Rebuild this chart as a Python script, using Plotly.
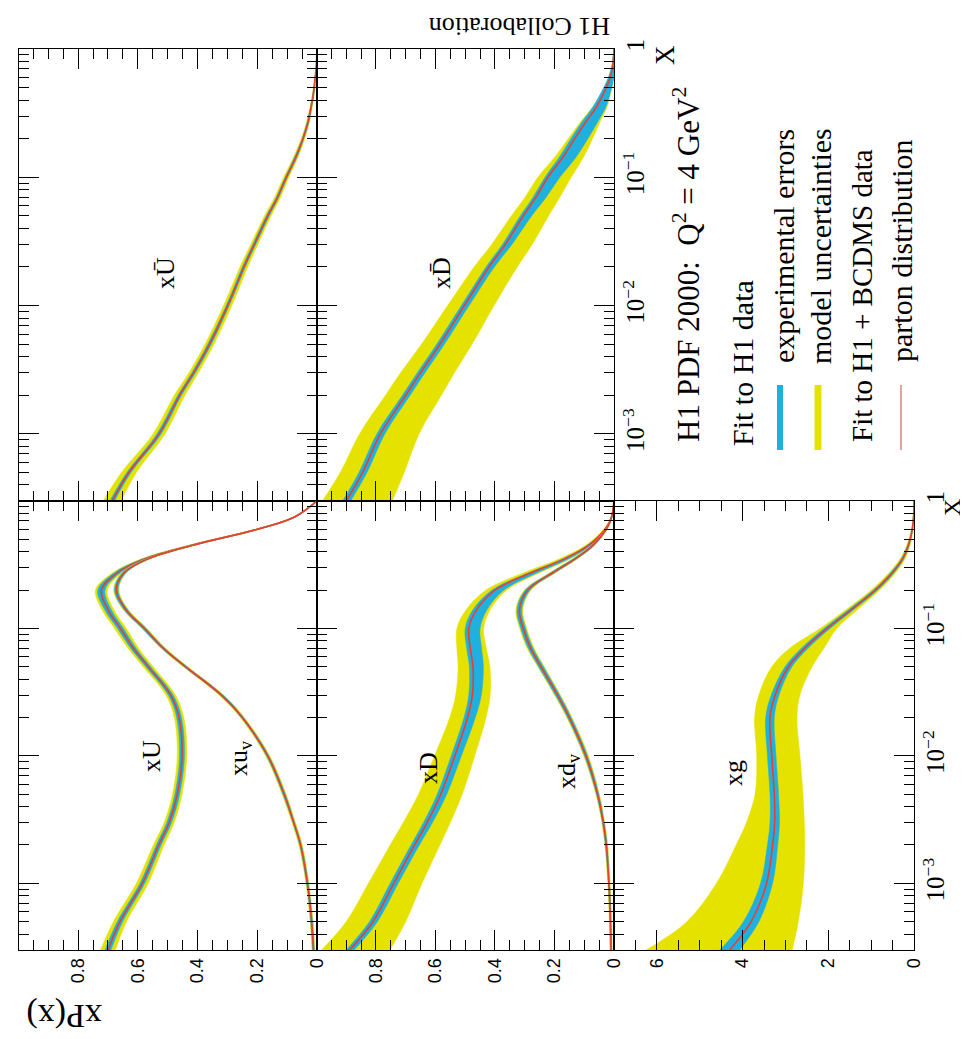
import plotly.graph_objects as go
from plotly.subplots import make_subplots

# ---------------- data ----------------
X = [3e-4, 5e-4, 1e-3, 2e-3, 3e-3, 5e-3, 1e-2, 2e-2, 3e-2, 5e-2, 7e-2, 0.1,
     0.14, 0.2, 0.27, 0.35, 0.45, 0.6, 0.75, 1.0]

xU = [0.70, 0.66, 0.585, 0.53, 0.495, 0.468, 0.452, 0.462, 0.49, 0.565, 0.615, 0.658,
      0.70, 0.722, 0.672, 0.578, 0.42, 0.20, 0.075, 0.0]
xU_cyan = [0.010, 0.009, 0.008, 0.008, 0.008, 0.008, 0.008, 0.008, 0.008, 0.008, 0.009, 0.010,
           0.011, 0.012, 0.010, 0.008, 0.006, 0.004, 0.002, 0.0]
xU_yel = [0.025, 0.022, 0.020, 0.018, 0.017, 0.016, 0.016, 0.016, 0.016, 0.017, 0.018, 0.020,
          0.020, 0.020, 0.016, 0.012, 0.009, 0.005, 0.002, 0.0]

xuv = [0.012, 0.018, 0.032, 0.055, 0.078, 0.11, 0.165, 0.25, 0.32, 0.44, 0.515, 0.578,
       0.64, 0.672, 0.648, 0.568, 0.415, 0.20, 0.075, 0.0]
xuv_cyan = [0.003, 0.003, 0.003, 0.003, 0.003, 0.004, 0.004, 0.004, 0.005, 0.005, 0.005, 0.006,
            0.006, 0.006, 0.006, 0.005, 0.004, 0.003, 0.002, 0.0]
xuv_yel = [0.005, 0.005, 0.005, 0.006, 0.006, 0.007, 0.007, 0.007, 0.008, 0.008, 0.008, 0.009,
           0.009, 0.009, 0.008, 0.007, 0.006, 0.004, 0.002, 0.0]

xUbar = [0.686, 0.63, 0.529, 0.46, 0.413, 0.36, 0.299, 0.245, 0.21, 0.165, 0.132, 0.103,
         0.073, 0.047, 0.03, 0.02, 0.012, 0.006, 0.002, 0.0]
xUbar_cyan = [0.008, 0.007, 0.007, 0.006, 0.006, 0.006, 0.005, 0.005, 0.005, 0.005, 0.004, 0.004,
              0.004, 0.003, 0.003, 0.002, 0.002, 0.001, 0.001, 0.0]
xUbar_yel = [0.030, 0.025, 0.020, 0.018, 0.016, 0.015, 0.014, 0.013, 0.012, 0.011, 0.010, 0.009,
             0.008, 0.006, 0.005, 0.004, 0.003, 0.002, 0.001, 0.0]

xD = [0.888, 0.81, 0.74, 0.67, 0.628, 0.582, 0.535, 0.492, 0.476, 0.474, 0.483, 0.488,
      0.462, 0.40, 0.285, 0.168, 0.085, 0.03, 0.008, 0.0]
xD_cyan_hi = [0.012, 0.012, 0.012, 0.012, 0.012, 0.012, 0.012, 0.012, 0.012, 0.012, 0.012, 0.012,
              0.012, 0.010, 0.008, 0.006, 0.004, 0.002, 0.001, 0.0]
xD_cyan_lo = [0.015, 0.015, 0.015, 0.016, 0.018, 0.020, 0.022, 0.026, 0.030, 0.035, 0.038, 0.038,
              0.035, 0.030, 0.022, 0.014, 0.008, 0.004, 0.002, 0.0]
xD_yel_hi = [0.095, 0.090, 0.085, 0.082, 0.080, 0.075, 0.068, 0.060, 0.056, 0.050, 0.045, 0.040,
             0.035, 0.030, 0.025, 0.018, 0.010, 0.005, 0.002, 0.0]
xD_yel_lo = [0.135, 0.110, 0.095, 0.085, 0.078, 0.072, 0.067, 0.062, 0.060, 0.057, 0.054, 0.050,
             0.046, 0.040, 0.030, 0.020, 0.012, 0.006, 0.002, 0.0]

xdv = [0.01, 0.012, 0.017, 0.026, 0.036, 0.055, 0.094, 0.15, 0.19, 0.245, 0.28, 0.305,
       0.318, 0.29, 0.21, 0.132, 0.07, 0.026, 0.008, 0.0]
xdv_cyan = [0.002, 0.002, 0.002, 0.003, 0.003, 0.004, 0.005, 0.006, 0.007, 0.008, 0.008, 0.008,
            0.008, 0.008, 0.007, 0.006, 0.004, 0.002, 0.001, 0.0]
xdv_yel = [0.004, 0.004, 0.004, 0.005, 0.005, 0.006, 0.008, 0.009, 0.010, 0.011, 0.012, 0.012,
           0.012, 0.011, 0.010, 0.008, 0.005, 0.003, 0.001, 0.0]

xDbar = [0.90, 0.845, 0.785, 0.70, 0.65, 0.585, 0.503, 0.42, 0.365, 0.305, 0.262, 0.222,
         0.175, 0.132, 0.095, 0.06, 0.035, 0.013, 0.004, 0.0]
xDbar_cyan_hi = [0.012, 0.012, 0.012, 0.011, 0.011, 0.011, 0.010, 0.010, 0.010, 0.010, 0.010, 0.010,
                 0.012, 0.013, 0.013, 0.012, 0.010, 0.006, 0.003, 0.0]
xDbar_cyan_lo = [0.015, 0.015, 0.015, 0.015, 0.015, 0.015, 0.016, 0.018, 0.022, 0.028, 0.034, 0.040,
                 0.044, 0.044, 0.040, 0.032, 0.022, 0.012, 0.004, 0.0]
xDbar_yel_hi = [0.080, 0.075, 0.070, 0.068, 0.067, 0.062, 0.056, 0.050, 0.046, 0.040, 0.037, 0.034,
                0.028, 0.022, 0.018, 0.013, 0.009, 0.005, 0.002, 0.0]
xDbar_yel_lo = [0.155, 0.140, 0.130, 0.120, 0.114, 0.108, 0.100, 0.095, 0.090, 0.085, 0.080, 0.078,
                0.070, 0.060, 0.048, 0.036, 0.024, 0.012, 0.004, 0.0]

xg = [4.30, 3.80, 3.44, 3.30, 3.25, 3.26, 3.32, 3.36, 3.24, 2.93, 2.55, 2.03,
      1.47, 0.90, 0.52, 0.27, 0.13, 0.04, 0.01, 0.0]
xg_cyan = [0.23, 0.18, 0.14, 0.12, 0.11, 0.10, 0.10, 0.10, 0.09, 0.08, 0.08, 0.07,
           0.06, 0.05, 0.04, 0.03, 0.02, 0.01, 0.005, 0.0]
xg_yel_hi = [1.95, 1.50, 1.17, 0.85, 0.66, 0.45, 0.35, 0.36, 0.38, 0.39, 0.35, 0.16,
             0.12, 0.10, 0.08, 0.06, 0.04, 0.02, 0.01, 0.0]
xg_yel_lo = [1.46, 1.10, 0.86, 0.75, 0.69, 0.67, 0.66, 0.63, 0.58, 0.55, 0.45, 0.23,
             0.15, 0.10, 0.08, 0.06, 0.04, 0.02, 0.01, 0.0]

# axis tick steps (major / minor)
VAL_MAJOR, VAL_MINOR = 0.2, 0.05
G_MAJOR, G_MINOR = 2, 0.5

# ---------------- style ----------------
YELLOW = "#e6e200"
CYAN = "#1fb0e0"
RED = "#e8402c"
PINK = "#e6a0a0"
SERIF = "Liberation Serif"
SANS = "Liberation Sans"

W, H = 968, 1039
PL, PR, PT, PB = 11, 906, 41, 942


def pxx(p):
    return (p - PL) / (PR - PL)


def pxy(p):
    return (PB - p) / (PB - PT)


fig = make_subplots(rows=2, cols=3, specs=[[{}, {}, None], [{}, {}, {}]],
                    column_widths=[298, 297, 300], row_heights=[452, 449],
                    horizontal_spacing=0, vertical_spacing=0)


def band(row, col, center, lo_off, hi_off, color):
    hi = [c + h for c, h in zip(center, hi_off)]
    lo = [c - l for c, l in zip(center, lo_off)]
    fig.add_trace(go.Scatter(x=hi + lo[::-1], y=X + X[::-1], mode="lines", fill="toself",
                             fillcolor=color, line=dict(width=0.5, color=color, shape="spline"),
                             hoverinfo="skip", showlegend=False), row=row, col=col)


def curve(row, col, center, cyan_lo, cyan_hi, yel_lo, yel_hi):
    band(row, col, center, yel_lo, yel_hi, YELLOW)
    band(row, col, center, cyan_lo, cyan_hi, CYAN)
    fig.add_trace(go.Scatter(x=center, y=X, mode="lines",
                             line=dict(color=RED, width=1.6, shape="spline"),
                             hoverinfo="skip", showlegend=False), row=row, col=col)


curve(2, 1, xU, xU_cyan, xU_cyan, xU_yel, xU_yel)
curve(2, 1, xuv, xuv_cyan, xuv_cyan, xuv_yel, xuv_yel)
curve(1, 1, xUbar, xUbar_cyan, xUbar_cyan, xUbar_yel, xUbar_yel)
curve(2, 2, xD, xD_cyan_lo, xD_cyan_hi, xD_yel_lo, xD_yel_hi)
curve(2, 2, xdv, xdv_cyan, xdv_cyan, xdv_yel, xdv_yel)
curve(1, 2, xDbar, xDbar_cyan_lo, xDbar_cyan_hi, xDbar_yel_lo, xDbar_yel_hi)
curve(2, 3, xg, xg_cyan, xg_cyan, xg_yel_lo, xg_yel_hi)

axis_common = dict(showline=True, linecolor="black", linewidth=1.3, mirror="allticks",
                   ticks="inside", ticklen=20, tickwidth=1.3, tickcolor="black",
                   showgrid=False, zeroline=False, tickangle=-90)
minor_common = dict(ticks="inside", ticklen=10, tickwidth=1.2, tickcolor="black", showgrid=False)

for (r, c) in [(1, 1), (2, 1), (1, 2), (2, 2), (2, 3)]:
    if c < 3:
        fig.update_xaxes(range=[0.998, 0], tickmode="linear", tick0=0, dtick=VAL_MAJOR,
                         minor=dict(tickmode="linear", tick0=0, dtick=VAL_MINOR, **minor_common),
                         row=r, col=c, **axis_common)
    else:
        fig.update_xaxes(range=[7.0, 0], tickmode="linear", tick0=0, dtick=G_MAJOR,
                         minor=dict(tickmode="linear", tick0=0, dtick=G_MINOR, **minor_common),
                         row=r, col=c, **axis_common)
    fig.update_xaxes(showticklabels=(r == 2), tickfont=dict(family=SANS, size=18, color="black"),
                     ticklabelstandoff=0, row=r, col=c)
    show_log = (r, c) in [(1, 2), (2, 3)]
    fig.update_yaxes(type="log", range=[-3.523, 0], tickmode="linear", tick0=0, dtick=1,
                     exponentformat="power", showexponent="all",
                     minor=dict(dtick="D1", **minor_common),
                     showticklabels=show_log, side="right",
                     tickfont=dict(family=SERIF, size=20, color="black"),
                     ticklabelstandoff=0, row=r, col=c, **axis_common)

annotations = []


def text(xp, yp, s, size, angle=-90, family=SERIF, xanchor="center", yanchor="middle"):
    annotations.append(dict(x=pxx(xp), y=pxy(yp), xref="paper", yref="paper", text=s,
                            showarrow=False, textangle=angle, xanchor=xanchor, yanchor=yanchor,
                            font=dict(family=family, size=size, color="black")))


# panel labels
text(157, 265, "x\u016A", 26)
text(143, 748, "xU", 26)
text(232, 750, "xu<sub>v</sub>", 26)
text(433, 265, "xD\u0304", 26)
text(420, 760, "xD", 26)
text(560, 763, "xd<sub>v</sub>", 26)
text(725, 765, "xg", 26)

# axis titles
text(657, 47, "X", 27)
text(944, 500, "X", 24)
text(56, 1008, "xP(x)", 34, angle=180)
text(512, 18, "H1 Collaboration", 26, angle=180)

# legend block
text(678, 257, "H1 PDF 2000:  Q<sup>2</sup> = 4 GeV<sup>2</sup>", 31)
text(734, 355, "Fit to H1 data", 30)
text(776, 238, "experimental errors", 30)
text(813, 238, "model uncertainties", 30)
text(854, 288, "Fit to H1 + BCDMS data", 29)
text(893, 243, "parton distribution", 30)

shapes = [
    dict(type="line", xref="paper", yref="paper", x0=pxx(772), x1=pxx(772), y0=pxy(377), y1=pxy(442),
         line=dict(color=CYAN, width=6)),
    dict(type="line", xref="paper", yref="paper", x0=pxx(810), x1=pxx(810), y0=pxy(377), y1=pxy(442),
         line=dict(color=YELLOW, width=7)),
    dict(type="line", xref="paper", yref="paper", x0=pxx(893), x1=pxx(893), y0=pxy(377), y1=pxy(442),
         line=dict(color=PINK, width=2)),
]

fig.update_layout(width=W, height=H, margin=dict(l=PL, r=W - PR, t=PT, b=H - PB),
                  paper_bgcolor="white", plot_bgcolor="white", showlegend=False,
                  annotations=annotations, shapes=shapes)

fig.write_html("out.html")
